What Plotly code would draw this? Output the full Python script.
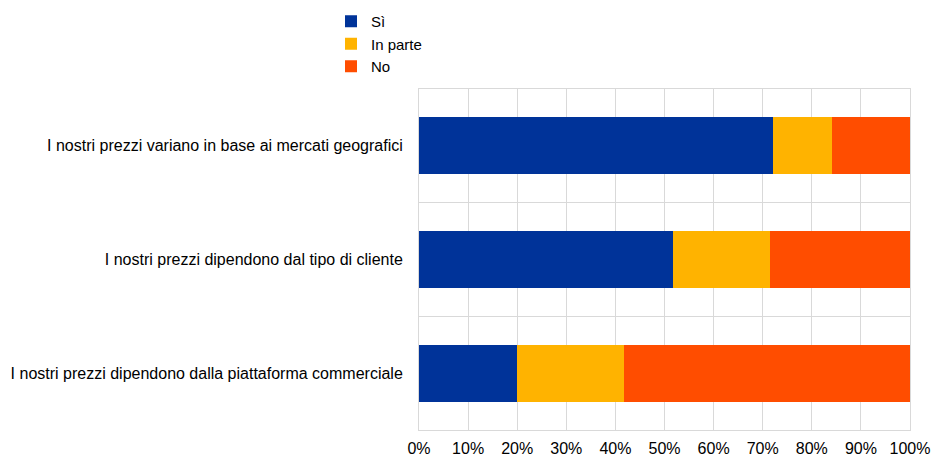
import plotly.graph_objects as go

# Survey statements (top to bottom) and share of answers, in percent
statements = [
    "I nostri prezzi variano in base ai mercati geografici",
    "I nostri prezzi dipendono dal tipo di cliente",
    "I nostri prezzi dipendono dalla piattaforma commerciale",
]
si = [72.0, 51.7, 20.0]
in_parte = [12.2, 19.7, 21.8]
no = [15.8, 28.6, 58.2]

x_ticks = [0, 10, 20, 30, 40, 50, 60, 70, 80, 90, 100]
x_tick_labels = [f"{v}%" for v in x_ticks]

series = [
    ("Sì", si, "#003399"),
    ("In parte", in_parte, "#FFB300"),
    ("No", no, "#FF4D00"),
]

grid = "#d9d9d9"
font = dict(family="Liberation Sans, Arial, sans-serif", size=16, color="#000000")
legend_font = dict(family="Liberation Sans, Arial, sans-serif", size=15, color="#000000")

fig = go.Figure()
for i, (name, values, color) in enumerate(series):
    fig.add_trace(go.Bar(
        name=name,
        y=statements,
        x=values,
        orientation="h",
        marker=dict(color=color, line=dict(width=0)),
        legendgroup=f"g{i}",
        hoverinfo="x+name",
    ))

fig.update_layout(
    barmode="stack",
    bargap=0.5,
    width=933,
    height=456,
    margin=dict(l=419, r=23, t=89, b=26, autoexpand=False),
    paper_bgcolor="white",
    plot_bgcolor="white",
    font=font,
    legend=dict(
        xref="container", yref="container",
        x=331 / 933, y=1 - 5 / 456,
        xanchor="left", yanchor="top",
        orientation="v",
        traceorder="grouped",
        tracegroupgap=0,
        font=legend_font,
        bgcolor="rgba(0,0,0,0)",
    ),
    xaxis=dict(
        range=[0, 100],
        tickvals=x_ticks,
        ticktext=x_tick_labels,
        tickangle=0,
        automargin=False,
        showgrid=True,
        gridcolor=grid,
        gridwidth=1,
        zeroline=False,
        showline=True,
        linecolor=grid,
        mirror=True,
        ticks="",
        ticklabelstandoff=4,
        fixedrange=True,
    ),
    yaxis=dict(
        type="category",
        categoryorder="array",
        categoryarray=statements[::-1],
        tickson="boundaries",
        automargin=False,
        showgrid=True,
        gridcolor=grid,
        gridwidth=1,
        showline=True,
        linecolor=grid,
        mirror=True,
        ticks="",
        ticklabelstandoff=12,
        fixedrange=True,
    ),
)

fig.write_html("out.html")
